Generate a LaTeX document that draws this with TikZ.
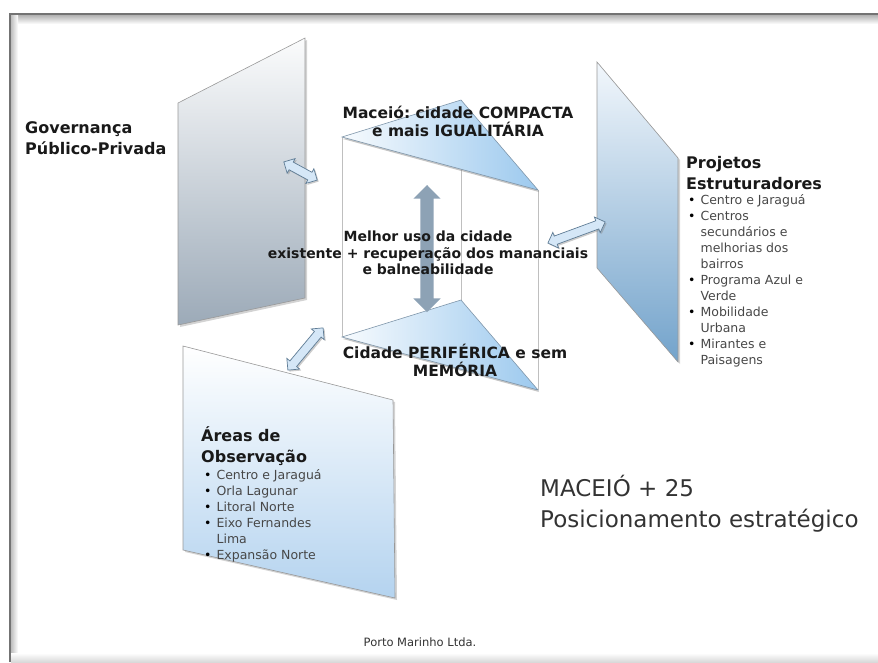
\documentclass[tikz,border=0pt]{standalone}
\usepackage{fontspec}
\setmainfont{DejaVu Sans}
\usepackage{tikz}
\usetikzlibrary{shapes.arrows,shadows}
\frenchspacing

\definecolor{govbottom}{HTML}{9CAAB8}
\definecolor{projtop}{HTML}{F2F7FC}
\definecolor{projbottom}{HTML}{73A3CB}
\definecolor{areabottom}{HTML}{B4D3EF}
\definecolor{tribottom}{HTML}{9CC9EE}
\definecolor{arrowfill}{HTML}{D5E7F7}
\definecolor{arrowline}{HTML}{5F7C95}
\definecolor{vertarrow}{HTML}{8DA2B5}

\begin{document}
\begin{tikzpicture}[x=1pt,y=-1pt,
    panel/.style={draw=black!40,line width=0.6pt,drop shadow={shadow xshift=2pt,shadow yshift=-2pt,opacity=0.35}},
    tri/.style={draw=arrowline!80,line width=0.6pt,left color=white!92!tribottom,right color=tribottom,drop shadow={shadow xshift=1pt,shadow yshift=-2pt,opacity=0.45}},
    boxline/.style={draw=black!25,line width=0.6pt},
    linkarrow/.style={double arrow,draw=arrowline,fill=arrowfill,line width=0.7pt,inner xsep=0pt,inner ysep=4pt,double arrow head extend=4pt,drop shadow={shadow xshift=1.5pt,shadow yshift=-1.5pt,opacity=0.4}},
    bigarrow/.style={double arrow,fill=vertarrow,inner xsep=0pt,inner ysep=6.5pt,double arrow head extend=7pt},
    head/.style={font=\fontsize{16}{21}\selectfont\bfseries,text=black!90,inner sep=0pt,align=left},
    label/.style={font=\fontsize{15.5}{18}\selectfont\bfseries,text=black!90,inner sep=0pt,align=center},
    itemlist/.style={font=\fontsize{12.5}{16}\selectfont,text=black!72,inner sep=0pt}]
\useasboundingbox (0,0) rectangle (878,662);

% frame
\fill[top color=black!30,bottom color=white] (10,15) rectangle (878,24);
\fill[left color=black!25,right color=white] (11,15) rectangle (18,662);
\fill[top color=white,bottom color=black!15] (11,653) rectangle (878,662);
\draw[line width=2.5pt,black!55] (10,662) -- (10,14) -- (878,14);

% panels
\path[panel,top color=white!96!govbottom,bottom color=govbottom] (178,103) -- (305,38) -- (305,298) -- (178,325) -- cycle;
\path[panel,top color=projtop,bottom color=projbottom] (597,62) -- (678,158) -- (678,362) -- (597,268) -- cycle;
\path[panel,top color=white,bottom color=areabottom] (183,346) -- (393,400) -- (395,598) -- (183,550) -- cycle;

% box
\draw[boxline] (342,137) -- (342,337);
\draw[boxline] (461,100) -- (461,300);
\draw[boxline] (538,190) -- (538,390);
\path[tri] (342,137) -- (461,100) -- (538,190) -- cycle;
\path[tri] (342,337) -- (461,300) -- (538,390) -- cycle;

% arrows
\coordinate (up) at (427,185);
\coordinate (dn) at (427,312);
\path (dn) -- (up) node[midway,sloped,bigarrow,minimum height=127pt] (vert) {};
\coordinate (g1) at (284,162);
\coordinate (g2) at (317,180);
\path (g1) -- (g2) node[midway,sloped,linkarrow,minimum height=38pt] (govlink) {};
\coordinate (p1) at (548,243);
\coordinate (p2) at (605,222);
\path (p1) -- (p2) node[midway,sloped,linkarrow,minimum height=61pt] (projlink) {};
\coordinate (a1) at (288,370);
\coordinate (a2) at (323,328);
\path (a1) -- (a2) node[midway,sloped,linkarrow,minimum height=55pt] (arealink) {};

% texts
\node[head,anchor=west] (gov) at (25,138) {Governança\\Público-Privada};
\node[label] (compacta) at (458,121) {Maceió: cidade COMPACTA\\e mais IGUALITÁRIA};
\node[label] (periferica) at (455,360) {Cidade PERIFÉRICA e sem\\MEMÓRIA};
\node[font=\fontsize{14}{16.5}\selectfont\bfseries,text=black!90,inner sep=0pt,align=center] (melhor) at (428,253) {Melhor uso da cidade\\existente + recuperação dos mananciais\\e balneabilidade};

\node[head,anchor=west] (projhead) at (686,173) {Projetos\\Estruturadores};
\node[itemlist,anchor=north west] (projlist) at (688,193) {\begin{tabular}{@{}l@{\hspace{5pt}}l@{}}
{\color{black}\textbullet} & Centro e Jaraguá\\
{\color{black}\textbullet} & Centros\\
 & secundários e\\
 & melhorias dos\\
 & bairros\\
{\color{black}\textbullet} & Programa Azul e\\
 & Verde\\
{\color{black}\textbullet} & Mobilidade\\
 & Urbana\\
{\color{black}\textbullet} & Mirantes e\\
 & Paisagens
\end{tabular}};

\node[head,anchor=west] (areahead) at (201,446) {Áreas de\\Observação};
\node[itemlist,anchor=north west] (arealist) at (204,468) {\begin{tabular}{@{}l@{\hspace{5pt}}l@{}}
{\color{black}\textbullet} & Centro e Jaraguá\\
{\color{black}\textbullet} & Orla Lagunar\\
{\color{black}\textbullet} & Litoral Norte\\
{\color{black}\textbullet} & Eixo Fernandes\\
 & Lima\\
{\color{black}\textbullet} & Expansão Norte
\end{tabular}};

\node[font=\fontsize{23}{31}\selectfont,text=black!80,inner sep=0pt,align=left,anchor=west] (title) at (540,504) {MACEIÓ + 25\\Posicionamento estratégico};
\node[font=\fontsize{11.5}{14}\selectfont,text=black!80,inner sep=0pt] (credit) at (420,642) {Porto Marinho Ltda.};
\end{tikzpicture}
\end{document}
